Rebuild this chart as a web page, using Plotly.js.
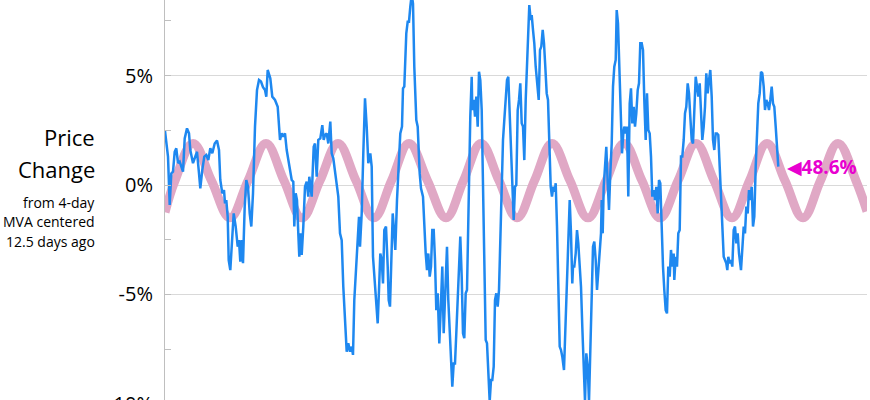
<!DOCTYPE html>
<html>
<head>
<meta charset="utf-8">
<script src="https://cdn.plot.ly/plotly-3.0.1.min.js"></script>
<style>
html, body { margin: 0; padding: 0; overflow: hidden; background: #fff; }
#chart { width: 870px; height: 440px; }
</style>
</head>
<body>
<div id="chart"></div>
<script>
// Price change series (percent), x = trading-day offset
const blueDays = [
0,3,4.7,6.3,8,9.7,11.3,13,14.7,16.3,18,19.7,22,24,25.3,28,30.3,32,34,35.3,37.3,39.3,41.3,43.3,45.3,47.3,49.7,52,54,55.3,57.3,59,60,61.3,62.7,63.7,65.3,67,68.7,70.7,72.7,74,75.3,76.7,78,79.7,81.3,83,84.7,86.3,88,90,92,94,96,98,100,101.3,102.7,
105.3,107.3,110,112.7,115,116.7,118.3,120,121.7,124,126.7,128.3,129.3,130.7,132,133.3,134.3,135.7,136.7,138.3,140,141.7,143.3,144.3,145.7,146.7,148.7,150,151.7,153.3,155.3,157.3,158.7,160,161.7,163.3,165.3,166.7,168.3,170.7,173.3,175,176.7,178.3,180,181.7,183.3,185,186.7,188,189.3,191,192.7,194,195,196.7,198.3,200,201.7,203.3,
205.3,206.7,208,210.3,212.7,214,215.3,216.7,218,219.3,221,222.7,223.7,225,226.3,227.7,229,230.3,232,233.7,235.3,237,238,239.3,241.3,242.7,244,245.3,246.7,248,249.3,251.3,252.7,254.7,256,258,259.3,260.7,262,263.3,264.7,266,267.3,268.7,270,271.3,272.7,274.3,275.7,277.3,278.7,280.3,282,283.3,284.7,286,287.3,288.7,290,291.3,292.7,294,295.3,296.7,298,299.3,300.7,302,303.7,305.3,306.7,
307.3,308.7,310,311.3,312.7,314,315.3,316.7,318,319.3,320.7,322,323.3,324.7,326,327.3,328.7,330,331.3,332.7,334,335.3,336.7,338,339.3,340.7,342,343.3,344.7,346,347.3,348.7,350,351.3,352.7,354,355.3,356.7,358,359.3,360.7,362,363.3,364.3,365.7,366.7,368,369.3,370.7,372.3,373.7,375,376.3,377.7,379,380.3,381.7,383,384,385.7,387,388.3,389.7,390.7,392,393.3,394.7,396,397.3,399,400.7,402,403.3,404.7,406,407.3,
408,409.3,410.7,412,413.3,414.7,416,417.3,418.7,420,421.3,422.7,424,425.3,426.7,428,429.3,430.7,432,433.3,434.7,436,436.7,437.7,438.7,440,441.3,442.7,444,445.3,446.7,448,449.3,450.7,451.7,453,454.3,455.7,457,458.3,459.3,460.7,462,463.3,464.7,466,467.3,468.7,470,471.3,472.7,474,475.3,476.7,478,479.3,480.7,482,483.3,484.7,486,487.3,488.7,490,491.3,492.7,494,495.3,496.7,498,499.3,500.7,502,503.3,504.7,506,507.3,508.7,
509.3,510.7,512,513.3,514.7,516,517.3,518.7,520,521.3,522.7,524,525.3,526.7,528,529.3,530.7,532,533.3,534.7,536,537.3,538.7,540,541.3,542.7,544,545.3,546.7,548,549.3,550.7,552,553.3,554.7,556,557.3,558.7,560,561.3,562.3,563.3,564.7,566,567.3,568.7,570,571.3,572.7,574,576,577.3,578.7,580,581.3,582.7,584,585.3,586.7,588,589.3,590.7,592,593.3,594.7,596,597.3,598.7,600,601.3,602.7,604,605.3,606.7,608,609.3,610.7,612,613.3
];
const blueValues = [
2.47,1.3,-0.91,0.53,0.61,1.52,1.68,1.0,1.07,0.84,0.61,2.13,2.59,2.36,1.6,1.0,1.3,1.52,0.53,-0.15,0.69,1.3,1.37,1.14,1.68,1.45,1.9,2.03,1.6,0.23,-0.38,-0.23,-0.84,-0.69,-1.45,-3.43,-3.89,-2.52,-1.3,-1.9,-2.82,-2.52,-3.51,-2.52,-3.58,-0.99,0.23,-0.08,-1.3,-1.9,-0.38,2.67,4.34,4.8,4.73,4.47,4.34,4.04,5.26,
4.88,4.04,3.89,3.58,2.06,2.36,2.21,2.36,1.6,1.0,0.23,0.15,-1.9,-0.38,-0.69,-2.21,-3.28,-2.21,-3.2,-1.9,-0.08,0.15,-0.53,0.38,-0.23,-0.53,1.75,1.9,0.38,2.06,2.13,2.74,2.06,2.29,2.36,1.9,2.9,1.45,1.22,0.38,-0.53,-2.21,-2.52,-4.65,-6.02,-7.62,-7.24,-7.62,-7.39,-7.77,-5.26,-3.73,-2.52,-1.45,-2.82,-1.3,1.45,3.96,2.67,1.0,
1.45,0.84,-3.28,-4.8,-6.33,-4.8,-3.13,-3.43,-4.5,-2.06,-1.9,-3.73,-5.26,-5.56,-2.97,-1.3,-2.06,-2.97,-0.69,1.14,2.36,2.67,4.42,4.5,6.94,7.47,7.47,8.16,8.7,8.3,5.41,2.97,2.67,0.53,-0.15,-0.53,-1.9,-3.13,-3.89,-3.13,-4.19,-3.73,-2.06,-2.06,-3.43,-5.72,-4.95,-7.24,-5.72,-3.73,-6.78,-4.8,-2.82,-5.26,-6.78,-8.0,-9.22,-8.16,-8.16,-6.78,-4.95,-3.73,-2.36,-4.19,-6.78,-7.01,-4.95,-4.8,-0.08,3.13,4.95,
3.43,3.89,3.13,4.04,2.67,5.18,4.8,3.43,0.08,-3.73,-7.09,-7.24,-8.31,-9.9,-8.92,-8.92,-8.31,-5.26,-4.95,-5.56,-4.8,-2.21,0.08,2.06,2.97,4.04,4.8,4.95,3.13,1.14,-0.38,-1.6,-0.08,0,3.43,3.89,4.65,2.82,2.67,1.14,3.89,5.41,6.94,8.23,7.55,7.77,7.09,6.48,5.41,4.34,3.89,6.17,6.33,7.09,6.48,5.41,4.19,3.89,2.21,-0.08,-0.53,-0.08,-0.3,0.08,-1.9,-4.65,-7.39,-7.55,-7.85,-8.46,-6.17,-4.34,-2.52,-0.69,-2.21,-4.5,
-3.73,-3.73,-3.13,-2.06,-2.67,-3.73,-4.65,-6.48,-8.31,-9.9,-7.7,-8.31,-9.9,-7.55,-4.5,-2.82,-2.59,-3.43,-4.8,-4.04,-3.13,-2.21,-0.69,-2.21,-0.08,1.14,1.75,0.08,-1.14,0.53,1.9,4.5,5.41,5.72,8.0,7.39,5.41,2.82,1.45,2.36,2.67,2.36,2.67,-0.53,3.73,4.42,2.82,3.58,2.67,3.28,4.34,4.65,6.48,6.48,6.17,3.89,2.06,4.19,2.52,2.36,1.3,-0.53,-0.23,-0.69,-0.08,-1.3,0.23,0.08,-2.21,-3.73,-4.8,-5.72,-5.87,-3.73,-4.19,-2.97,-3.73,-3.13,
-4.34,-3.28,-3.73,-2.21,-2.06,1.3,1.3,2.06,3.28,3.58,4.65,4.19,3.13,2.06,1.9,3.89,4.95,4.5,4.04,4.65,3.58,2.06,2.67,3.58,5.11,4.19,4.8,5.26,4.04,2.06,1.6,2.36,2.36,2.29,0.84,-0.38,-2.21,-3.28,-3.43,-3.58,-3.89,-3.28,-3.58,-3.43,-3.73,-2.06,-1.9,-2.67,-2.21,-3.13,-3.89,-2.82,-1.9,-2.21,-0.99,-1.3,-0.23,-0.69,-0.08,-1.9,-1.45,0.84,2.06,3.73,4.19,5.18,5.11,4.5,3.43,3.89,3.73,3.43,3.89,4.5,3.73,3.58,2.67,1.9,0.84
];

// Cycle curve read at its peaks, troughs and mid crossings
const cycleDays = [0,10,28,46.5,65,83,101,119,137,155,173,191,209,226.5,244,262.5,281,298.5,316,334,352,369.5,387,405,423,441,459,477,495,513,531,549,567,584.5,602,620,638,655.5,673,691,702];
const cycleValues = [-1.25,0.2,1.9,0.2,-1.5,0.2,1.9,0.2,-1.5,0.2,1.9,0.2,-1.5,0.2,1.9,0.2,-1.5,0.2,1.9,0.2,-1.5,0.2,1.9,0.2,-1.5,0.2,1.9,0.2,-1.5,0.2,1.9,0.2,-1.5,0.2,1.9,0.2,-1.5,0.2,1.9,0.2,-1.2];

const yTickVals = [-10, -5, 0, 5];
const yTickText = ['-10%', '-5%', '0%', '5%'];
const cycleLabel = '\u25C048.6%';
const cycleLabelDay = 620;
const cycleLabelValue = 0.82;

const FONT = '"Open Sans", "DejaVu Sans", sans-serif';
const H = 440;
function py(px) { return 1 - px / H; }
const titleX = -(165 - 96.5) / 702;

const traces = [
  { x: cycleDays, y: cycleValues, type: 'scatter', mode: 'lines',
    line: { color: '#E0A8C5', width: 9, shape: 'spline', smoothing: 1.1 }, hoverinfo: 'skip' },
  { x: blueDays, y: blueValues, type: 'scatter', mode: 'lines',
    line: { color: '#1E88F0', width: 2.5 }, hoverinfo: 'skip' }
];

const layout = {
  width: 870, height: H,
  margin: { l: 165, r: 3, t: 0, b: 0, pad: 0 },
  paper_bgcolor: '#ffffff', plot_bgcolor: '#ffffff',
  showlegend: false,
  font: { family: FONT, color: '#000' },
  xaxis: { range: [0, 702], visible: false, fixedrange: true },
  yaxis: {
    range: [-11.66, 8.46],
    tickvals: yTickVals, ticktext: yTickText,
    tickfont: { family: FONT, size: 20, color: '#000' },
    ticks: '', ticklabelstandoff: 7,
    showgrid: true, gridcolor: '#d9d9d9', gridwidth: 1,
    zeroline: false,
    showline: true, linecolor: '#bfbfbf', linewidth: 1,
    minor: { dtick: 2.5, tick0: 0, ticks: 'inside', ticklen: 6, tickcolor: '#bfbfbf', tickwidth: 1, showgrid: false },
    fixedrange: true
  },
  annotations: [
    { text: 'Price', xref: 'paper', yref: 'paper', x: titleX, xanchor: 'right', y: py(137), yanchor: 'middle', showarrow: false, font: { family: FONT, size: 22, color: '#000' } },
    { text: 'Change', xref: 'paper', yref: 'paper', x: titleX, xanchor: 'right', y: py(169), yanchor: 'middle', showarrow: false, font: { family: FONT, size: 22, color: '#000' } },
    { text: 'from 4-day', xref: 'paper', yref: 'paper', x: titleX, xanchor: 'right', y: py(202), yanchor: 'middle', showarrow: false, font: { family: FONT, size: 14, color: '#000' } },
    { text: 'MVA centered', xref: 'paper', yref: 'paper', x: titleX, xanchor: 'right', y: py(221.5), yanchor: 'middle', showarrow: false, font: { family: FONT, size: 14, color: '#000' } },
    { text: '12.5 days ago', xref: 'paper', yref: 'paper', x: titleX, xanchor: 'right', y: py(241), yanchor: 'middle', showarrow: false, font: { family: FONT, size: 14, color: '#000' } },
    { text: cycleLabel, xref: 'x', yref: 'y', x: cycleLabelDay, xanchor: 'left', y: cycleLabelValue, yanchor: 'middle', showarrow: false, font: { family: FONT, size: 19, color: '#E800D0', weight: 'bold' } }
  ]
};

Plotly.newPlot('chart', traces, layout, { displayModeBar: false, staticPlot: true });
</script>
</body>
</html>
